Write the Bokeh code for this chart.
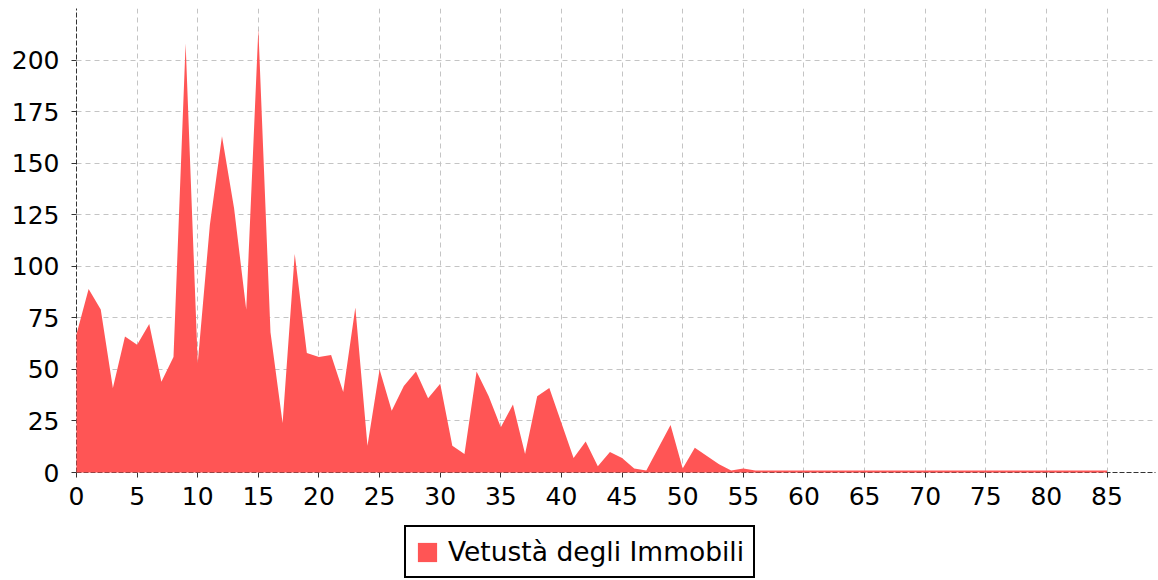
from bokeh.plotting import figure
from bokeh.layouts import column
from bokeh.models import Range1d, FixedTicker, Legend, LegendItem
from bokeh.embed import file_html
from bokeh.resources import INLINE

# --- data ---
ages = list(range(86))
counts = [67, 89, 79, 41, 66, 62, 72, 44, 56, 208,
          53, 120, 163, 128, 79, 215, 68, 24, 106, 58,
          56, 57, 39, 80, 13, 50, 30, 42, 49, 36,
          43, 13, 9, 49, 37, 22, 33, 9, 37, 41,
          24, 7, 15, 3, 10, 7, 2, 1, 12, 23,
          2, 12, 8, 4, 1, 2, 1, 1, 1, 1,
          1, 1, 1, 1, 1, 1, 1, 1, 1, 1,
          1, 1, 1, 1, 1, 1, 1, 1, 1, 1,
          1, 1, 1, 1, 1, 1]
x_ticks = [0, 5, 10, 15, 20, 25, 30, 35, 40, 45, 50, 55, 60, 65, 70, 75, 80, 85]
y_ticks = [0, 25, 50, 75, 100, 125, 150, 175, 200]
series_label = "Vetustà degli Immobili"

FONT = "DejaVu Sans"
AREA_COLOR = "#ff5555"

p = figure(width=1158, height=520, output_backend="svg", toolbar_location=None,
           x_range=Range1d(0, 89), y_range=Range1d(0, 225),
           min_border_left=76, min_border_right=3, min_border_top=8,
           min_border_bottom=48)
p.outline_line_color = None
p.background_fill_color = "white"
p.border_fill_color = "white"

r = p.varea(x=ages, y1=0, y2=counts, fill_color=AREA_COLOR, fill_alpha=1.0,
            level="overlay")

p.xaxis.ticker = FixedTicker(ticks=x_ticks)
p.yaxis.ticker = FixedTicker(ticks=y_ticks)

for ax in (p.xaxis, p.yaxis):
    ax.axis_line_color = "#333333"
    ax.axis_line_dash = "5 2"
    ax.axis_line_width = 1
    ax.major_tick_line_color = "#333333"
    ax.major_tick_out = 5
    ax.major_tick_in = 0
    ax.minor_tick_out = 0
    ax.minor_tick_in = 0
    ax.major_label_text_font = FONT
    ax.major_label_text_font_size = "25px"
    ax.major_label_text_color = "black"
p.yaxis.major_label_standoff = 12
p.xaxis.major_label_standoff = 9

for g in (p.xgrid, p.ygrid):
    g.grid_line_color = "#c4c4c4"
    g.grid_line_dash = "5 4"
    g.grid_line_width = 1

# legend strip below the chart (its frame is aligned with the chart's frame)
lg = figure(width=1158, height=60, output_backend="svg", toolbar_location=None,
            x_range=Range1d(-1000, -999), y_range=Range1d(-1000, -999),
            x_axis_type=None, y_axis_type=None,
            min_border_left=0, min_border_right=0, min_border_top=0,
            min_border_bottom=0)
lg.outline_line_color = None
lg.xgrid.visible = False
lg.ygrid.visible = False
lr = lg.varea(x=ages, y1=0, y2=counts, fill_color=AREA_COLOR, fill_alpha=1.0)

legend = Legend(items=[LegendItem(label=series_label, renderers=[lr])],
                location=(328, 2), orientation="horizontal")
legend.label_text_font = FONT
legend.label_text_font_size = "26.5px"
legend.label_text_color = "black"
legend.border_line_color = "black"
legend.border_line_alpha = 1.0
legend.border_line_width = 2
legend.padding = 9
legend.margin = 0
legend.glyph_width = 24
legend.glyph_height = 24
legend.label_standoff = 9
legend.background_fill_color = "white"
legend.background_fill_alpha = 1.0
lg.add_layout(legend, "center")

layout = column(p, lg, spacing=0)
open("out.html", "w").write(file_html(layout, INLINE))
